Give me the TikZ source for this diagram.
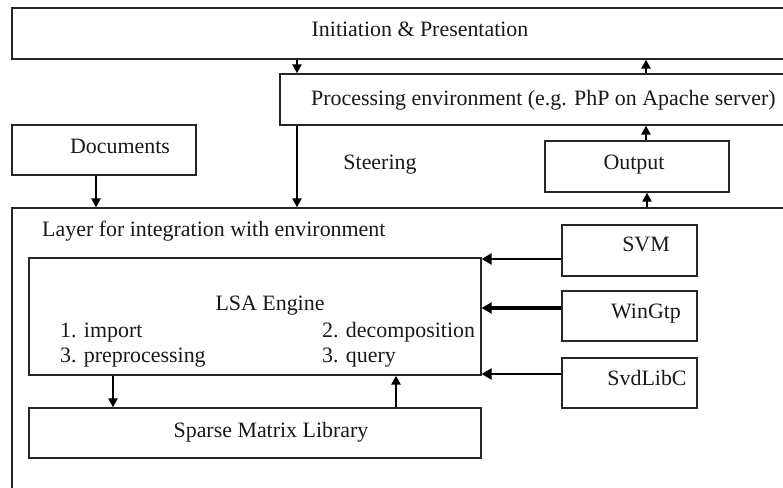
\documentclass[tikz,border=0pt]{standalone}
\usepackage{fontspec}
\setmainfont{Liberation Serif}
\usetikzlibrary{arrows.meta,fit}
\begin{document}
\begin{tikzpicture}[x=1bp,y=-1bp,
  box/.style={draw=black!85, line width=1.3bp, inner sep=0pt, fit={#1}},
  txt/.style={inner sep=0pt, anchor=base, font=\fontsize{22}{26}\selectfont, text=black!90},
  arr/.style={line width=2.2bp, draw=black, -{Triangle[length=9bp,width=9bp]}},
  harr/.style={line width=2.7bp, draw=black, -{Triangle[length=10bp,width=11bp]}}]
\useasboundingbox (0,0) rectangle (783,488);
\fill[white] (0,0) rectangle (783,488);
\clip (0,0) rectangle (783,488);
% boxes
\node[box={(12,8) (800,59)}] (top) {};
\node[box={(280,74) (800,125)}] (proc) {};
\node[box={(12,125) (196,175)}] (docs) {};
\node[box={(545,141) (729,192)}] (out) {};
\node[box={(12,208) (800,500)}] (layer) {};
\node[box={(29,258) (481,375)}] (lsa) {};
\node[box={(29,408) (481,458)}] (sparse) {};
\node[box={(562,225) (697,276)}] (svm) {};
\node[box={(562,291) (697,341)}] (win) {};
\node[box={(562,358) (697,408)}] (svd) {};
% texts
\node[txt] (tTop) at (420,37) {Initiation \& Presentation};
\node[txt, anchor=base west] (tProc) at (311,106) {Processing environment (e.g. PhP on Apache server)};
\node[txt] (tDocs) at (120,154) {Documents};
\node[txt] (tSteer) at (380,170) {Steering};
\node[txt] (tOut) at (634,170) {Output};
\node[txt, anchor=base west] (tLayer) at (42,237) {Layer for integration with environment};
\node[txt] (tLsa) at (270,311) {LSA Engine};
\node[txt, anchor=base west] (tImp) at (60,337) {1. import};
\node[txt, anchor=base west] (tPre) at (60,362) {3. preprocessing};
\node[txt, anchor=base west] (tDec) at (322,337) {2. decomposition};
\node[txt, anchor=base west] (tQry) at (322,362) {3. query};
\node[txt] (tSparse) at (271,437) {Sparse Matrix Library};
\node[txt] (tSvm) at (646,252) {SVM};
\node[txt] (tWin) at (646,318) {WinGtp};
\node[txt] (tSvd) at (647,385) {SvdLibC};
% connectors
\draw[arr] (297,0 |- top.south) -- (297,0 |- proc.north);
\draw[arr] (646,0 |- proc.north) -- (646,0 |- top.south);
\draw[arr] (646,0 |- out.north) -- (646,0 |- proc.south);
\draw[arr] (647,0 |- layer.north) -- (647,0 |- out.south);
\draw[arr] (96,0 |- docs.south) -- (96,0 |- layer.north);
\draw[arr] (297,0 |- proc.south) -- (297,0 |- layer.north);
\draw[harr] (svm.west |- 0,259) -- (lsa.east |- 0,259);
\draw[harr, line width=3.4bp] (win.west |- 0,308) -- (lsa.east |- 0,308);
\draw[harr] (svd.west |- 0,374) -- (lsa.east |- 0,374);
\draw[arr] (113,0 |- lsa.south) -- (113,0 |- sparse.north);
\draw[arr] (396,0 |- sparse.north) -- (396,0 |- lsa.south);
\end{tikzpicture}
\end{document}
